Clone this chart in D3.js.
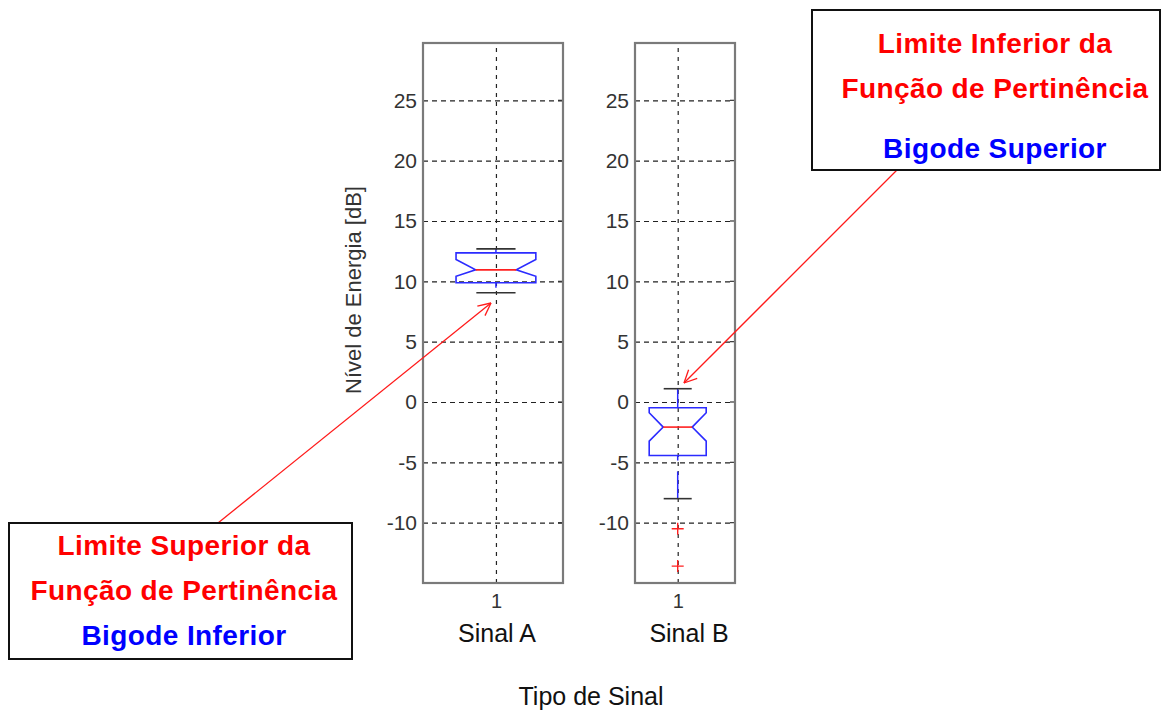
<!DOCTYPE html>
<html>
<head>
<meta charset="utf-8">
<script src="https://cdn.jsdelivr.net/npm/d3@7/dist/d3.min.js"></script>
<style>
  body { margin: 0; background: #fff; }
  svg { display: block; font-family: "Liberation Sans", Arial, sans-serif; }
</style>
</head>
<body>
<div id="chart"></div>
<script>
// box statistics (dB)
const categories = ["Sinal A", "Sinal B"];
const q1 = [9.88, -4.43];
const q3 = [12.36, -0.48];
const medians = [10.95, -2.08];
const notchLow = [10.42, -3.24];
const notchHigh = [11.81, -0.89];
const whiskerLow = [9.05, -8.01];
const whiskerHigh = [12.69, 1.10];
const outliers = [[], [-10.50, -13.60]];
const yTicks = [-10, -5, 0, 5, 10, 15, 20, 25];
const xTicks = [1];

const width = 1162, height = 711;

let svg = d3.select("#chart").append("svg")
	.attr("width", width)
	.attr("height", height);

// each signal has its own little axes
let panels = [
	{x0: 423, x1: 563, dom: [0.479, 1.479]},
	{x0: 635, x1: 735, dom: [0.573, 1.573]}
];

let y = d3.scaleLinear().domain([-15, 29.75]).range([583, 43]);

let boxHalf = 0.285, notchHalf = 0.145, capHalf = 0.14;

panels.forEach(function(p, i){
	let x = d3.scaleLinear().domain(p.dom).range([p.x0, p.x1]);
	let w = p.x1 - p.x0;
	let g = svg.append("g");

	// horizontal grid + y tick labels
	let ya = g.append("g").attr("transform", "translate(" + p.x0 + ",0)")
		.call(d3.axisLeft(y).tickValues(yTicks).tickFormat(function(d){return String(d);})
			.tickSizeInner(-w).tickSizeOuter(0).tickPadding(6));
	ya.select(".domain").remove();
	ya.selectAll("line").attr("stroke", "#222").attr("stroke-width", 1.2).attr("stroke-dasharray", "5,4");
	ya.selectAll("text").attr("fill", "#333").style("font-size", "21px");

	// vertical grid at x = 1 + tick label
	let xa = g.append("g").attr("transform", "translate(0," + y.range()[0] + ")")
		.call(d3.axisBottom(x).tickValues(xTicks).tickFormat(function(d){return String(d);})
			.tickSizeInner(-(y.range()[0] - y.range()[1])).tickSizeOuter(0).tickPadding(11));
	xa.select(".domain").remove();
	xa.selectAll("line").attr("stroke", "#222").attr("stroke-width", 1.2).attr("stroke-dasharray", "4,5");
	xa.selectAll("text").attr("fill", "#333").style("font-size", "20px");

	// small edge ticks
	g.selectAll(".rtick").data(yTicks).enter().append("line")
		.attr("x1", p.x1 - 5).attr("x2", p.x1)
		.attr("y1", function(d){return y(d);}).attr("y2", function(d){return y(d);})
		.attr("stroke", "#333").attr("stroke-width", 1.2);

	// frame
	g.append("rect")
		.attr("x", p.x0).attr("y", y.range()[1])
		.attr("width", w).attr("height", y.range()[0] - y.range()[1])
		.attr("fill", "none").attr("stroke", "#7a7a7a").attr("stroke-width", 2.2);

	let c = 1;

	// whiskers
	g.append("line")
		.attr("x1", x(c)).attr("x2", x(c))
		.attr("y1", y(q3[i])).attr("y2", y(whiskerHigh[i]))
		.attr("stroke", "#2b2bff").attr("stroke-width", 1.5);
	g.append("line")
		.attr("x1", x(c)).attr("x2", x(c))
		.attr("y1", y(q1[i])).attr("y2", y(whiskerLow[i]))
		.attr("stroke", "#2b2bff").attr("stroke-width", 1.5)
		.attr("stroke-dasharray", "5,11,60");

	// caps
	[whiskerHigh[i], whiskerLow[i]].forEach(function(v){
		g.append("line")
			.attr("x1", x(c - capHalf)).attr("x2", x(c + capHalf))
			.attr("y1", y(v)).attr("y2", y(v))
			.attr("stroke", "#333").attr("stroke-width", 1.6);
	});

	// notched box
	let pts = [
		[c - boxHalf, q3[i]], [c + boxHalf, q3[i]], [c + boxHalf, notchHigh[i]],
		[c + notchHalf, medians[i]], [c + boxHalf, notchLow[i]], [c + boxHalf, q1[i]],
		[c - boxHalf, q1[i]], [c - boxHalf, notchLow[i]], [c - notchHalf, medians[i]],
		[c - boxHalf, notchHigh[i]]
	];
	g.append("path")
		.attr("d", d3.line().x(function(d){return x(d[0]);}).y(function(d){return y(d[1]);})(pts) + "Z")
		.attr("fill", "none").attr("stroke", "#2b2bff").attr("stroke-width", 1.6);

	// median
	g.append("line")
		.attr("x1", x(c - notchHalf)).attr("x2", x(c + notchHalf))
		.attr("y1", y(medians[i])).attr("y2", y(medians[i]))
		.attr("stroke", "#ff2020").attr("stroke-width", 1.6);

	// outliers
	g.selectAll(".out").data(outliers[i]).enter().append("path")
		.attr("d", function(d){
			let px = x(c), py = y(d);
			return "M" + (px - 6) + "," + py + "H" + (px + 6) + "M" + px + "," + (py - 6) + "V" + (py + 6);
		})
		.attr("stroke", "#ff2020").attr("stroke-width", 1.4).attr("fill", "none");

	// category label
	g.append("text")
		.attr("x", (p.x0 + p.x1) / 2 + 4).attr("y", 642)
		.attr("text-anchor", "middle")
		.style("font-size", "25px").attr("fill", "#111")
		.text(categories[i]);
});

svg.append("text")
	.attr("x", 591).attr("y", 705)
	.attr("text-anchor", "middle")
	.style("font-size", "25px").attr("fill", "#111")
	.text("Tipo de Sinal");

svg.append("text")
	.attr("transform", "translate(361,290) rotate(-90)")
	.attr("text-anchor", "middle")
	.style("font-size", "22px").attr("fill", "#333")
	.text("Nível de Energia [dB]");

/*---------------- annotation boxes + arrows ----------------*/

function arrow(x1, y1, x2, y2){
	svg.append("line")
		.attr("x1", x1).attr("y1", y1).attr("x2", x2).attr("y2", y2)
		.attr("stroke", "#ff1a1a").attr("stroke-width", 1.3);
	let a = Math.atan2(y2 - y1, x2 - x1);
	[-0.45, 0.45].forEach(function(da){
		svg.append("line")
			.attr("x1", x2).attr("y1", y2)
			.attr("x2", x2 - 14 * Math.cos(a + da)).attr("y2", y2 - 14 * Math.sin(a + da))
			.attr("stroke", "#ff1a1a").attr("stroke-width", 1.3);
	});
}

arrow(218, 523, 491, 303);
arrow(897, 170, 684, 383);

let notes = [
	{x: 812, y: 10, w: 348, h: 160, cx: 995,
		lines: [["Limite Inferior da", "#ff0000", 53], ["Função de Pertinência", "#ff0000", 98], ["Bigode Superior", "#0000ff", 158]]},
	{x: 9, y: 523, w: 343, h: 136, cx: 184,
		lines: [["Limite Superior da", "#ff0000", 555], ["Função de Pertinência", "#ff0000", 600], ["Bigode Inferior", "#0000ff", 645]]}
];

notes.forEach(function(n){
	svg.append("rect")
		.attr("x", n.x).attr("y", n.y).attr("width", n.w).attr("height", n.h)
		.attr("fill", "#fff").attr("stroke", "#111").attr("stroke-width", 2);
	n.lines.forEach(function(l){
		svg.append("text")
			.attr("x", n.cx).attr("y", l[2])
			.attr("text-anchor", "middle")
			.style("font-size", "28px").style("font-weight", "bold")
			.style("letter-spacing", "0.4px")
			.attr("fill", l[1])
			.text(l[0]);
	});
});
</script>
</body>
</html>
